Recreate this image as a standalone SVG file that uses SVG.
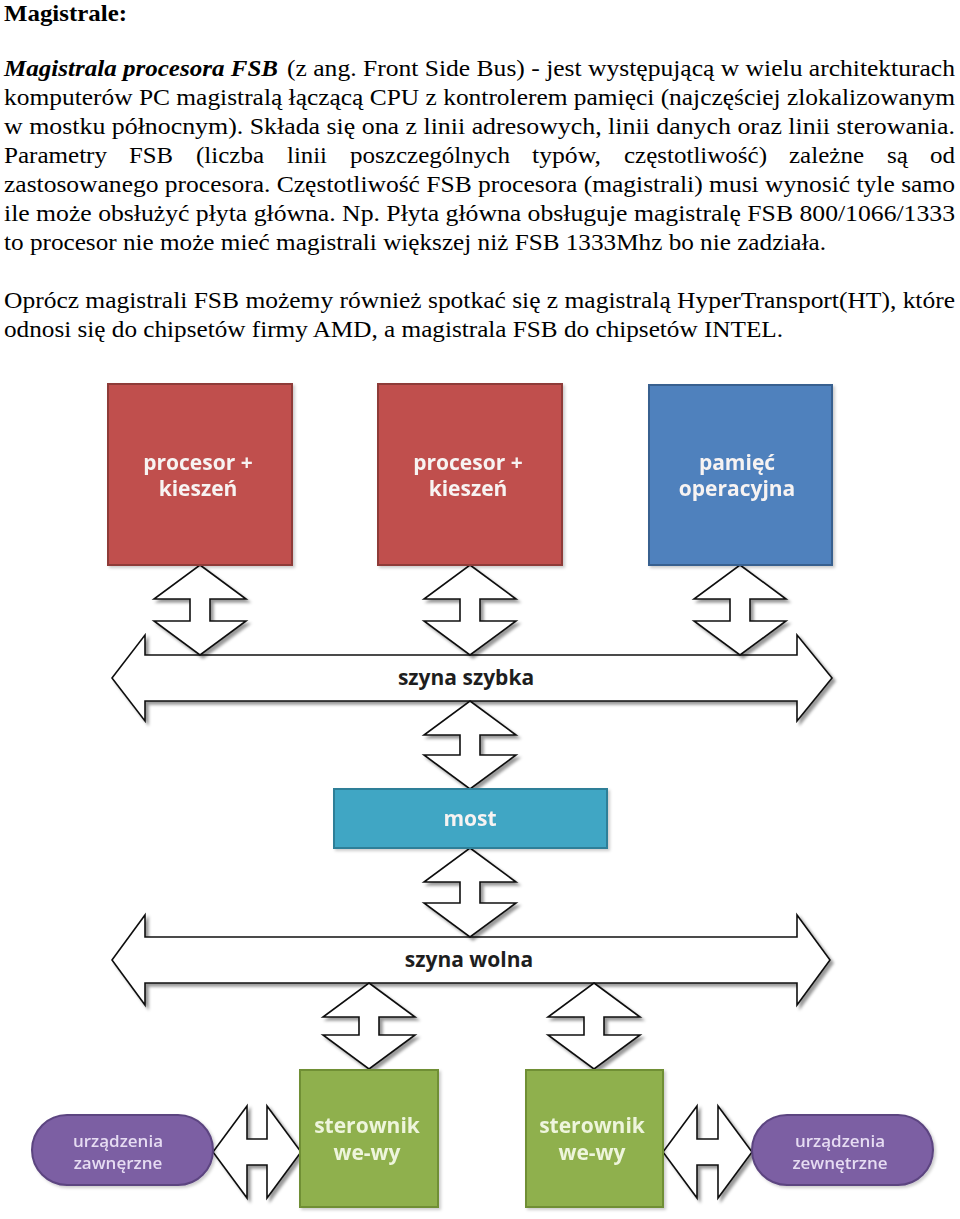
<svg xmlns="http://www.w3.org/2000/svg" width="960" height="1219" viewBox="0 0 960 1219">
<style>
.p{font-family:"Liberation Serif","Times New Roman",serif;font-size:23px;fill:#000}
.b{font-weight:bold}
.bi{font-weight:bold;font-style:italic}
.lbl{font-family:"Open Sans","DejaVu Sans",sans-serif;font-weight:bold;font-size:21px;text-anchor:middle}
.w{fill:#f7f3f2}
.bus{fill:#1e1e1e}
.dev{font-family:"Open Sans","DejaVu Sans",sans-serif;font-weight:600;font-size:17px;text-anchor:middle;fill:#e6dcf2}
.arr{fill:#fff;stroke:#111;stroke-width:1.6;stroke-linejoin:miter;filter:url(#sh)}
</style>
<defs>
<filter id="sh" x="-10%" y="-10%" width="130%" height="130%">
<feDropShadow dx="3" dy="3" stdDeviation="1.5" flood-color="#000" flood-opacity="0.4"/>
</filter>
<filter id="bs" x="-5%" y="-5%" width="115%" height="115%">
<feDropShadow dx="2" dy="2" stdDeviation="1.5" flood-color="#000" flood-opacity="0.2"/>
</filter>
</defs>
<rect width="960" height="1219" fill="#fff"/>

<g id="text">
<text class="p b" x="4" y="21" textLength="123" lengthAdjust="spacingAndGlyphs">Magistrale:</text>
<text class="p bi" x="4" y="76" textLength="274" lengthAdjust="spacingAndGlyphs">Magistrala procesora FSB</text>
<text class="p" x="287" y="76" textLength="668" lengthAdjust="spacingAndGlyphs">(z ang. Front Side Bus) - jest występującą w wielu architekturach</text>
<text class="p" x="4" y="105" textLength="951" lengthAdjust="spacingAndGlyphs">komputerów PC magistralą łączącą CPU z kontrolerem pamięci (najczęściej zlokalizowanym</text>
<text class="p" x="4" y="134" textLength="951" lengthAdjust="spacingAndGlyphs">w mostku północnym). Składa się ona z linii adresowych, linii danych oraz linii sterowania.</text>
<text class="p" y="163" lengthAdjust="spacingAndGlyphs"><tspan x="4" textLength="103" lengthAdjust="spacingAndGlyphs">Parametry</tspan> <tspan x="129" textLength="44" lengthAdjust="spacingAndGlyphs">FSB</tspan> <tspan x="196" textLength="68" lengthAdjust="spacingAndGlyphs">(liczba</tspan> <tspan x="287" textLength="40" lengthAdjust="spacingAndGlyphs">linii</tspan> <tspan x="350" textLength="160" lengthAdjust="spacingAndGlyphs">poszczególnych</tspan> <tspan x="532" textLength="69" lengthAdjust="spacingAndGlyphs">typów,</tspan> <tspan x="624" textLength="143" lengthAdjust="spacingAndGlyphs">częstotliwość)</tspan> <tspan x="789" textLength="75" lengthAdjust="spacingAndGlyphs">zależne</tspan> <tspan x="887" textLength="21" lengthAdjust="spacingAndGlyphs">są</tspan> <tspan x="930" textLength="25" lengthAdjust="spacingAndGlyphs">od</tspan></text>
<text class="p" x="4" y="192" textLength="951" lengthAdjust="spacingAndGlyphs">zastosowanego procesora. Częstotliwość FSB procesora (magistrali) musi wynosić tyle samo</text>
<text class="p" x="4" y="221" textLength="951" lengthAdjust="spacingAndGlyphs">ile może obsłużyć płyta główna. Np. Płyta główna obsługuje magistralę FSB 800/1066/1333</text>
<text class="p" x="4" y="250" textLength="822" lengthAdjust="spacingAndGlyphs">to procesor nie może mieć magistrali większej niż FSB 1333Mhz bo nie zadziała.</text>
<text class="p" x="4" y="308" textLength="951" lengthAdjust="spacingAndGlyphs">Oprócz magistrali FSB możemy również spotkać się z magistralą HyperTransport(HT), które</text>
<text class="p" x="4" y="337" textLength="779" lengthAdjust="spacingAndGlyphs">odnosi się do chipsetów firmy AMD, a magistrala FSB do chipsetów INTEL.</text>
</g>

<g id="connectors">
<g id="szyna-szybka">
<polygon class="arr" points="112,678 145,635 145,655 797,655 797,635 832,678 797,721 797,701 145,701 145,721"/>
<text class="lbl bus" x="466" y="685">szyna szybka</text>
</g>
<g id="szyna-wolna">
<polygon class="arr" points="112,960 145,915 145,937 797,937 797,915 830,960 797,1005 797,983 145,983 145,1005"/>
<text class="lbl bus" x="469" y="967">szyna wolna</text>
</g>
<polygon class="arr" points="200,565 246,599 210,599 210,621 246,621 200,655 154,621 190,621 190,599 154,599"/>
<polygon class="arr" points="470,565 516,599 480,599 480,621 516,621 470,655 424,621 460,621 460,599 424,599"/>
<polygon class="arr" points="740,565 786,599 750,599 750,621 786,621 740,655 694,621 730,621 730,599 694,599"/>
<polygon class="arr" points="470,701 516,735 480,735 480,755 516,755 470,789 424,755 460,755 460,735 424,735"/>
<polygon class="arr" points="470,848 516,882 480,882 480,903 516,903 470,937 424,903 460,903 460,882 424,882"/>
<polygon class="arr" points="369,983 415,1017 379,1017 379,1035 415,1035 369,1069 323,1035 359,1035 359,1017 323,1017"/>
<polygon class="arr" points="594,983 640,1017 604,1017 604,1035 640,1035 594,1069 548,1035 584,1035 584,1017 548,1017"/>
<polygon class="arr" points="213,1152 247,1106 247,1139 267,1139 267,1106 301,1152 267,1198 267,1165 247,1165 247,1198"/>
<polygon class="arr" points="663,1152 697,1106 697,1139 718,1139 718,1106 752,1152 718,1198 718,1165 697,1165 697,1198"/>
</g>

<g id="cpu1" filter="url(#bs)">
<rect x="108" y="384" width="184" height="181" fill="#c0504d" stroke="#8e3a37" stroke-width="2"/>
<text class="lbl w" x="198" y="470">procesor +</text>
<text class="lbl w" x="198" y="496">kieszeń</text>
</g>
<g id="cpu2" filter="url(#bs)">
<rect x="378" y="384" width="184" height="181" fill="#c0504d" stroke="#8e3a37" stroke-width="2"/>
<text class="lbl w" x="468" y="470">procesor +</text>
<text class="lbl w" x="468" y="496">kieszeń</text>
</g>
<g id="ram" filter="url(#bs)">
<rect x="649" y="385" width="183" height="180" fill="#4f81bd" stroke="#37608f" stroke-width="2"/>
<text class="lbl w" x="737" y="470">pamięć</text>
<text class="lbl w" x="737" y="496">operacyjna</text>
</g>
<g id="most" filter="url(#bs)">
<rect x="334" y="789" width="273" height="59" fill="#3fa6c4" stroke="#2d7f98" stroke-width="2"/>
<text class="lbl w" x="470" y="826">most</text>
</g>
<g id="io1" filter="url(#bs)">
<rect x="300" y="1070" width="138" height="137" fill="#8fb04d" stroke="#6f8f36" stroke-width="2"/>
<text class="lbl" fill="#eef5dc" x="367" y="1133">sterownik</text>
<text class="lbl" fill="#eef5dc" x="367" y="1160">we-wy</text>
</g>
<g id="io2" filter="url(#bs)">
<rect x="526" y="1070" width="137" height="137" fill="#8fb04d" stroke="#6f8f36" stroke-width="2"/>
<text class="lbl" fill="#eef5dc" x="592" y="1133">sterownik</text>
<text class="lbl" fill="#eef5dc" x="592" y="1160">we-wy</text>
</g>
<g id="dev1" filter="url(#bs)">
<rect x="32" y="1115" width="181" height="70" rx="35" ry="35" fill="#7b5ea3" stroke="#5c4480" stroke-width="2"/>
<text class="dev" x="118" y="1147">urządzenia</text>
<text class="dev" x="118" y="1169">zawnęrzne</text>
</g>
<g id="dev2" filter="url(#bs)">
<rect x="752" y="1115" width="181" height="70" rx="35" ry="35" fill="#7b5ea3" stroke="#5c4480" stroke-width="2"/>
<text class="dev" x="840" y="1147">urządzenia</text>
<text class="dev" x="840" y="1169">zewnętrzne</text>
</g>
</svg>
